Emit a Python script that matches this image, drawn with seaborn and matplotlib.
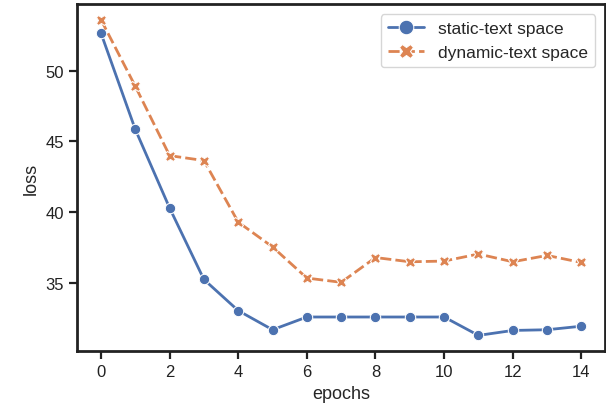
import matplotlib
matplotlib.use("Agg")
import matplotlib.pyplot as plt
import numpy as np
import pandas as pd
import seaborn as sns

epochs = list(range(15))
static_loss = [52.65, 45.85, 40.3, 35.25, 33.05, 31.7, 32.6, 32.6, 32.6,
               32.6, 32.6, 31.3, 31.65, 31.7, 31.95]
dynamic_loss = [53.6, 48.9, 44.0, 43.65, 39.3, 37.55, 35.35, 35.05, 36.8,
                36.5, 36.55, 37.05, 36.5, 36.95, 36.45]
series_names = ["static-text space", "dynamic-text space"]

df = pd.DataFrame({
    "epochs": epochs * 2,
    "loss": static_loss + dynamic_loss,
    "space": [series_names[0]] * len(epochs) + [series_names[1]] * len(epochs),
})

sns.set_theme(style="ticks")
plt.rcParams["font.family"] = ["Arial", "Liberation Sans", "DejaVu Sans"]

fig = plt.figure(figsize=(6.06, 4.1), dpi=100)
ax = fig.add_axes([0.127, 0.141, 0.872, 0.847])
sns.lineplot(data=df, x="epochs", y="loss", hue="space", style="space",
             markers=True, markersize=7.5, linewidth=2, ax=ax)

ax.set_xticks(range(0, 15, 2))
ax.set_yticks([35, 40, 45, 50])
ax.tick_params(labelsize=12, width=1.6, length=6, colors="#222222")
ax.set_xlabel("epochs", fontsize=13)
ax.set_ylabel("loss", fontsize=13)
for s in ax.spines.values():
    s.set_linewidth(2)
    s.set_color("#222222")
ax.legend(title=None, loc="upper right", fontsize=12.5, markerscale=1.4,
          handlelength=2.1, borderaxespad=0.6)

fig.savefig("out.png", dpi=100)
